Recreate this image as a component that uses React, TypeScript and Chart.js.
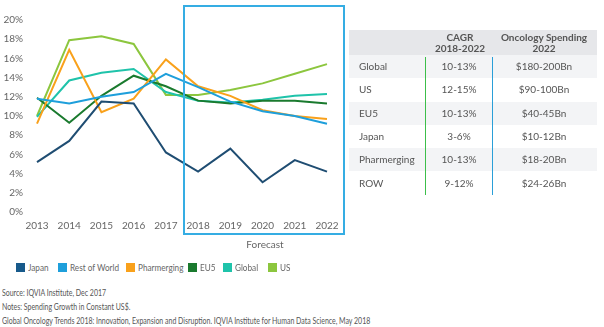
import React, { useEffect, useRef } from "react";
import { Chart, registerables } from "chart.js";

Chart.register(...registerables);

const years = ["2013", "2014", "2015", "2016", "2017", "2018", "2019", "2020", "2021", "2022"];
const japan = [5.2, 7.4, 11.5, 11.3, 6.2, 4.2, 6.6, 3.1, 5.4, 4.2];
const restOfWorld = [11.8, 11.3, 12.0, 12.5, 14.4, 13.0, 11.5, 10.5, 10.0, 9.2];
const pharmerging = [9.2, 16.9, 10.4, 11.8, 15.9, 13.1, 12.1, 10.6, 10.0, 9.7];
const eu5 = [11.9, 9.3, 12.1, 14.2, 13.1, 11.6, 11.3, 11.6, 11.6, 11.3];
const global = [9.9, 13.7, 14.5, 14.9, 12.5, 11.6, 11.4, 11.7, 12.1, 12.3];
const us = [10.0, 17.9, 18.3, 17.5, 12.2, 12.2, 12.7, 13.4, 14.4, 15.4];

const seriesNames = ["Japan", "Rest of World", "Pharmerging", "EU5", "Global", "US"];
const lineColors = ["#1f4d72", "#1e9fdb", "#f9a11b", "#1a7a2e", "#1fc3aa", "#8cc63e"];
const legendColors = ["#175a8b", "#1e9fdb", "#f9a11b", "#1a7a2e", "#1fc3aa", "#8cc63e"];

const tableRegions = ["Global", "US", "EU5", "Japan", "Pharmerging", "ROW"];
const tableCagr = ["10-13%", "12-15%", "10-13%", "3-6%", "10-13%", "9-12%"];
const tableSpending = ["$180-200Bn", "$90-100Bn", "$40-45Bn", "$10-12Bn", "$18-20Bn", "$24-26Bn"];

const footnotes = [
  "Source: IQVIA Institute, Dec 2017",
  "Notes: Spending Growth in Constant US$.",
  "Global Oncology Trends 2018: Innovation, Expansion and Disruption. IQVIA Institute for Human Data Science, May 2018",
];

const FONT = "Lato, 'Open Sans', sans-serif";

export default function App() {
  const ref = useRef<HTMLCanvasElement | null>(null);

  useEffect(() => {
    if (!ref.current) return;
    const allSeries = [japan, restOfWorld, pharmerging, eu5, global, us];
    const chart = new Chart(ref.current, {
      type: "line",
      data: {
        labels: years,
        datasets: allSeries.map((d, i) => ({
          label: seriesNames[i],
          data: d,
          borderColor: lineColors[i],
          backgroundColor: lineColors[i],
          borderWidth: 2,
          pointRadius: 0,
          tension: 0,
          fill: false,
        })),
      },
      options: {
        responsive: false,
        animation: false,
        layout: { padding: { top: 9, right: 23, bottom: 0, left: 0 } },
        plugins: { legend: { display: false }, tooltip: { enabled: false } },
        scales: {
          x: {
            grid: { display: false, drawTicks: false },
            border: { display: false },
            ticks: { color: "#666", font: { family: FONT, size: 10 }, padding: 8, maxRotation: 0 },
            afterFit: (s: any) => {
              s.height = 28;
            },
          },
          y: {
            min: 0,
            max: 20,
            grid: { display: false, drawTicks: false },
            border: { display: false },
            ticks: {
              stepSize: 2,
              color: "#666",
              font: { family: FONT, size: 10 },
              padding: 14,
              callback: (v: any) => v + "%",
            },
            afterFit: (s: any) => {
              s.width = 37;
            },
          },
        },
      },
    });
    return () => chart.destroy();
  }, []);

  const rowH = 23.3;
  const legendX = [16, 58, 126, 188, 223, 268];

  return (
    <div style={{ position: "absolute", left: 0, top: 0, width: 604, height: 327, background: "#fff", fontFamily: FONT, overflow: "hidden" }}>
      <canvas ref={ref} width={350} height={240} style={{ position: "absolute", left: 0, top: 0, width: 350, height: 240 }} />
      {/* forecast box */}
      <div style={{ position: "absolute", left: 183, top: 5, width: 162, height: 230, border: "2px solid #35ade3", boxSizing: "border-box" }} />
      <div style={{ position: "absolute", left: 225, top: 238, width: 80, textAlign: "center", fontSize: 10, color: "#666" }}>Forecast</div>

      {/* table */}
      <div style={{ position: "absolute", left: 349, top: 30, width: 248, height: 25, background: "#e6e7ea" }} />
      <div style={{ position: "absolute", left: 430, top: 32, width: 60, textAlign: "center", fontSize: 10, fontWeight: 700, color: "#555", lineHeight: "11px" }}>
        CAGR<br />2018-2022
      </div>
      <div style={{ position: "absolute", left: 489, top: 32, width: 110, textAlign: "center", fontSize: 10, fontWeight: 700, color: "#555", lineHeight: "11px" }}>
        Oncology Spending<br />2022
      </div>
      {tableRegions.map((r, i) => (
        <div key={r} style={{ position: "absolute", left: 349, top: 55 + i * rowH, width: 248, height: rowH, background: i % 2 === 0 ? "#f3f4f6" : "#fff", fontSize: 10, color: "#555" }}>
          <span style={{ position: "absolute", left: 10, top: 5 }}>{r}</span>
          <span style={{ position: "absolute", left: 80, width: 60, textAlign: "center", top: 5 }}>{tableCagr[i]}</span>
          <span style={{ position: "absolute", left: 140, width: 110, textAlign: "center", top: 5 }}>{tableSpending[i]}</span>
        </div>
      ))}
      <div style={{ position: "absolute", left: 425, top: 57, width: 1, height: 138, background: "#3cbf4a" }} />
      <div style={{ position: "absolute", left: 492, top: 57, width: 1, height: 138, background: "#2a9fd8" }} />

      {/* legend */}
      {seriesNames.map((n, i) => (
        <div key={n} style={{ position: "absolute", left: legendX[i], top: 262, height: 10, display: "flex", alignItems: "center", whiteSpace: "nowrap" }}>
          <span style={{ display: "inline-block", width: 9, height: 9, background: legendColors[i], marginRight: 3 }} />
          <span style={{ fontSize: 9.5, color: "#666", display: "inline-block", transform: "scaleX(0.86)", transformOrigin: "left center" }}>{n}</span>
        </div>
      ))}

      {/* footnotes */}
      {footnotes.map((t, i) => (
        <div key={i} style={{ position: "absolute", left: 2, top: 288 + i * 14, fontSize: 8.5, color: "#555", whiteSpace: "nowrap", transform: "scaleX(0.82)", transformOrigin: "left top" }}>{t}</div>
      ))}
    </div>
  );
}
